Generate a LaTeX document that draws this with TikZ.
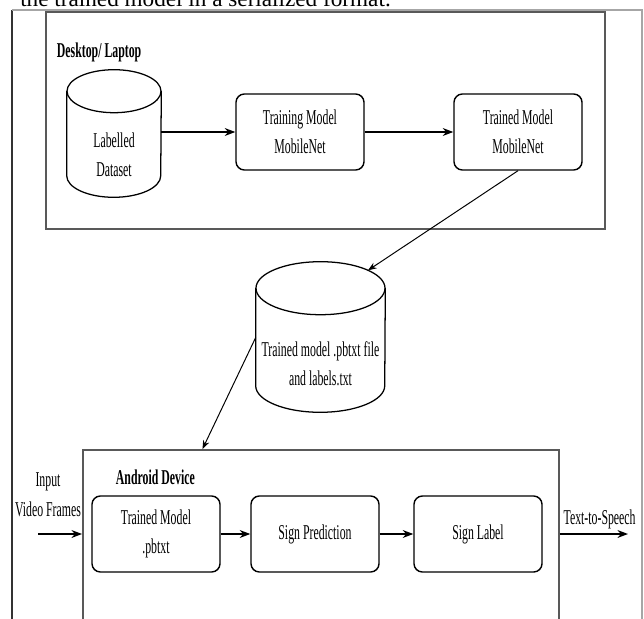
\documentclass[tikz,border=0pt]{standalone}
\usepackage{fontspec}
\setmainfont{Liberation Serif}[FakeStretch=0.56]
\newfontfamily\capfont{Liberation Serif}
\usetikzlibrary{calc,arrows.meta}

\tikzset{
  block/.style={draw, rounded corners=6pt, line width=1pt, minimum width=3.2cm, minimum height=1.9cm, align=center},
  store/.style={align=center, inner sep=0pt},
  frame/.style={draw=black!65, line width=1.3pt, inner sep=0pt},
  group/.style={font=\fontsize{15}{21}\selectfont\bfseries, anchor=west},
}

\begin{document}
\begin{tikzpicture}[x=0.025cm,y=-0.025cm,>=Stealth,font=\fontsize{15}{21}\selectfont]
\useasboundingbox (0,0) rectangle (644,618);
\clip (0,0) rectangle (644,618);

% Page
\node[anchor=base west, inner sep=0pt, font=\capfont\fontsize{16.5}{18}\selectfont] (caption) at (20,6) {the trained model in a serialized format.};
\draw[black!80, line width=1pt] (12,10) -- (12,640);
\draw[black!35, line width=0.8pt] (12,10) -- (642,10) -- (642,640);

% Desktop
\node[frame, minimum width=13.975cm, minimum height=5.425cm] (desktop) at (325.5,120.5) {};
\node[group] (desktoplbl) at (52,52) {Desktop/ Laptop};
\node[store, minimum width=2.35cm, minimum height=2.1cm] (data) at (114,155) {Labelled\\Dataset};
\node[block] (train) at (300,132) {Training Model\\MobileNet};
\node[block] (trained) at (518,132) {Trained Model\\MobileNet};

% Export
\node[store, minimum width=3.225cm, minimum height=2.425cm] (export) at (320.5,363.5) {Trained model .pbtxt file\\and labels.txt};

% Cylinders
\foreach \n/\rx/\ry in {data/1.175/0.5375, export/1.6125/0.6625} {
  \draw[line width=0.9pt] ($(\n.north)+(0,\ry cm)$) ellipse [x radius=\rx cm, y radius=\ry cm];
  \draw[line width=0.9pt] ($(\n.north west)+(0,\ry cm)$) -- ($(\n.south west)+(0,\ry cm)$)
    arc [start angle=180, end angle=360, x radius=\rx cm, y radius=\ry cm]
    -- ($(\n.north east)+(0,\ry cm)$);
}

% Android
\node[frame, minimum width=11.9cm, minimum height=4.75cm] (android) at (321,545) {};
\node[group] (androidlbl) at (111,477) {Android Device};
\node[block] (model) at (156,534) {Trained Model\\.pbtxt};
\node[block] (predict) at (315,534) {Sign Prediction};
\node[block] (label) at (478,534) {Sign Label};

\node[align=center] (input) at (48,495) {Input\\Video Frames};
\coordinate (src) at (38,534);
\coordinate (tts) at (628,534);

% Arrows
\draw[->, line width=1pt] (data.east |- train) -- (train);
\draw[->, line width=1pt] (train) -- (trained);
\draw[->, line width=0.7pt] (trained.south) -- ($(export.north)+(47.5,-44.4)$);
\draw[->, line width=0.7pt] ($(export.west)+(0,-26)$) -- ($(android.north west)!0.252!(android.north east)$);
\draw[->, line width=1pt] (src) -- (android.west |- model);
\draw[->, line width=1pt] (model) -- (predict);
\draw[->, line width=1pt] (predict) -- (label);
\draw[->, line width=1pt] (android.east |- label) -- node[above, xshift=4] {Text-to-Speech} (tts);
\end{tikzpicture}
\end{document}
